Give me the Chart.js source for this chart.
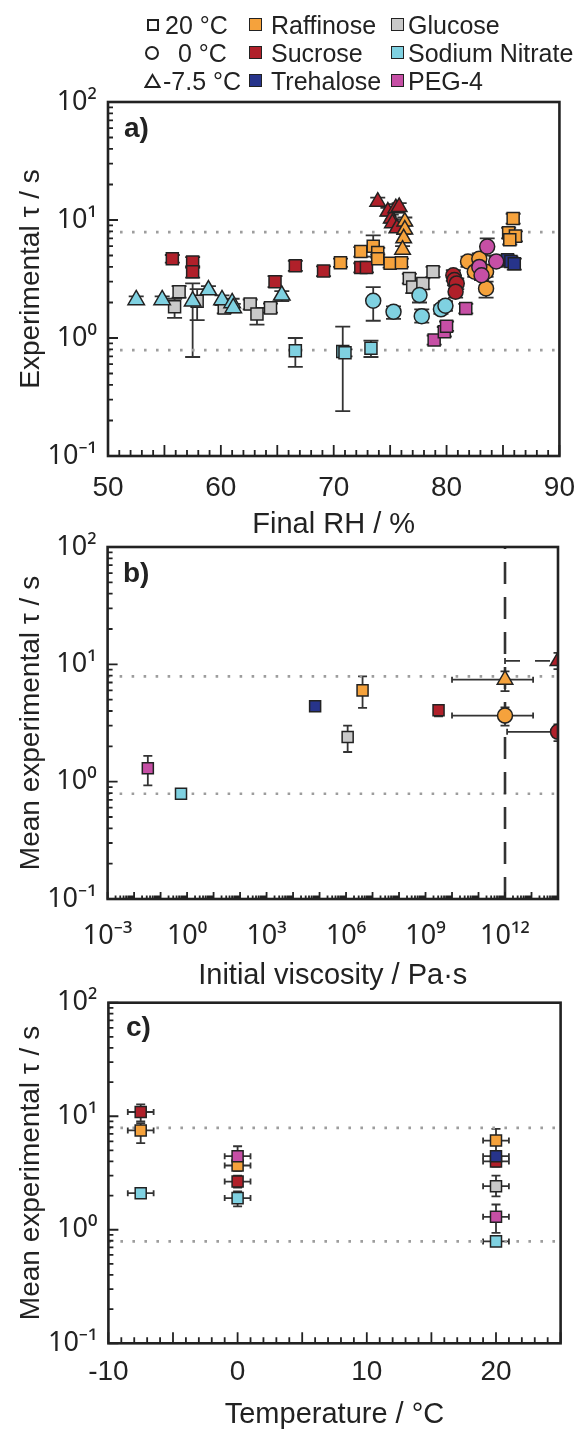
<!DOCTYPE html>
<html>
<head>
<meta charset="utf-8">
<script src="https://cdn.jsdelivr.net/npm/chart.js@4.4.0/dist/chart.umd.min.js"></script>
<style>
body { margin: 0; background: #fff; width: 582px; height: 1448px; position: relative; overflow: hidden;
       font-family: "Liberation Sans", Arial, sans-serif; color: #222; }
canvas { position: absolute; left: 0; }
.lg { position: absolute; font-size: 25px; line-height: 28px; white-space: nowrap; }
.mk { position: absolute; box-sizing: border-box; border: 1.6px solid #222; }
.pl { position: absolute; font-weight: bold; font-size: 28px; line-height: 32px; }
</style>
</head>
<body>
<canvas id="chartA" width="582" height="545" style="top:0"></canvas>
<canvas id="chartB" width="582" height="500" style="top:500px"></canvas>
<canvas id="chartC" width="582" height="493" style="top:955px"></canvas>

<!-- legend -->
<div class="mk" style="left:147px;top:19px;width:12px;height:12px;border-width:2px"></div>
<div class="lg" style="left:165px;top:11px">20 °C</div>
<div class="mk" style="left:145px;top:46px;width:14px;height:14px;border-width:2px;border-radius:50%"></div>
<div class="lg" style="left:178px;top:39px">0 °C</div>
<svg style="position:absolute;left:144px;top:73px" width="17" height="16"><polygon points="8.5,2 15.5,14 1.5,14" fill="none" stroke="#222" stroke-width="2"/></svg>
<div class="lg" style="left:163px;top:67px">-7.5 °C</div>

<div class="mk" style="left:249px;top:18px;width:13px;height:13px;background:#f5a23c"></div>
<div class="lg" style="left:271px;top:11px">Raffinose</div>
<div class="mk" style="left:249px;top:46px;width:13px;height:13px;background:#b0202a"></div>
<div class="lg" style="left:271px;top:39px">Sucrose</div>
<div class="mk" style="left:249px;top:74px;width:13px;height:13px;background:#27348b"></div>
<div class="lg" style="left:271px;top:67px">Trehalose</div>

<div class="mk" style="left:391px;top:18px;width:13px;height:13px;background:#c9c9c9"></div>
<div class="lg" style="left:408px;top:11px">Glucose</div>
<div class="mk" style="left:391px;top:46px;width:13px;height:13px;background:#7fd1e1"></div>
<div class="lg" style="left:408px;top:39px">Sodium Nitrate</div>
<div class="mk" style="left:391px;top:74px;width:13px;height:13px;background:#c64fa5"></div>
<div class="lg" style="left:408px;top:67px">PEG-4</div>

<div class="pl" style="left:124px;top:112px">a)</div>
<div class="pl" style="left:123px;top:557px">b)</div>
<div class="pl" style="left:126px;top:1011px">c)</div>

<script>
// panel a: [final RH %, tau s, tau low, tau high]
const sucrose20 = [[55.7, 4.7, 4.35, 5.05], [57.5, 4.4, 3.95, 4.85], [57.5, 3.65, 3.25, 4.05], [64.8, 3.0, 2.7, 3.35],
                   [66.6, 4.1, 3.7, 4.5], [69.1, 3.7, 3.35, 4.05], [72.4, 3.95, 3.6, 4.3], [72.9, 3.95, 3.6, 4.3]];
const raffinose20 = [[70.6, 4.35, 4.0, 4.7], [72.4, 5.4, 4.9, 5.9], [73.5, 6.0, 4.9, 7.4], [73.9, 5.3, 4.8, 5.8],
                     [73.9, 4.7, 4.3, 5.1], [75.0, 4.3, 3.95, 4.65], [76.0, 4.35, 4.0, 4.7], [85.9, 10.3, 9.3, 11.3],
                     [85.5, 7.8, 7.0, 8.6], [86.1, 7.3, 6.6, 8.0], [85.6, 6.8, 6.2, 7.4]];
const trehalose20 = [[85.4, 4.6, 4.2, 5.0], [85.7, 4.45, 4.0, 4.9], [86.0, 4.25, 3.8, 4.7]];
const glucose20 = [[55.9, 1.84, 1.48, 2.15], [56.3, 2.47, 2.2, 2.75], [57.9, 2.05, 1.42, 2.6], [60.3, 1.8, 1.62, 2.0],
                   [62.6, 1.94, 1.75, 2.12], [63.2, 1.6, 1.3, 1.8], [64.4, 1.8, 1.64, 1.96], [76.7, 3.2, 2.9, 3.5],
                   [77.0, 2.7, 2.4, 3.0], [77.9, 2.9, 2.6, 3.2], [78.8, 3.65, 3.3, 4.0]];
const nitrate20 = [[66.6, 0.78, 0.57, 1.0], [70.8, 0.77, 0.24, 1.25], [71.0, 0.75, 0.7, 0.8], [73.3, 0.82, 0.69, 0.95]];
const peg20 = [[78.9, 0.96, 0.88, 1.05], [79.8, 1.13, 1.03, 1.24], [80.0, 1.26, 1.15, 1.38], [81.7, 1.78, 1.62, 1.95]];
const nitrate0 = [[73.5, 2.07, 1.4, 2.7], [75.3, 1.67, 1.45, 1.85], [77.6, 2.31, 2.0, 2.6], [77.8, 1.53, 1.35, 1.75],
                  [79.5, 1.75, 1.6, 1.9], [79.9, 1.88, 1.7, 2.05]];
const sucrose0 = [[80.6, 3.4, 3.05, 3.75], [80.7, 3.1, 2.8, 3.4], [80.9, 2.9, 2.6, 3.2], [80.8, 2.47, 2.2, 2.75]];
const raffinose0 = [[81.9, 4.45, 4.0, 4.9], [82.5, 3.65, 3.3, 4.0], [82.9, 4.7, 4.2, 5.2], [83.5, 3.65, 3.3, 4.0],
                    [83.5, 2.63, 2.2, 3.0]];
const peg0 = [[83.6, 5.95, 5.0, 7.0], [82.9, 4.0, 3.6, 4.4], [83.1, 3.4, 3.1, 3.7], [84.4, 4.45, 4.0, 4.9]];
const nitrateM = [[52.5, 2.1, 1.95, 2.25], [54.8, 2.1, 1.95, 2.25], [57.5, 2.05, 0.69, 2.9], [58.9, 2.55, 2.35, 2.75],
                  [60.1, 2.1, 1.9, 2.3], [61.0, 1.98, 1.8, 2.15], [61.1, 1.8, 1.65, 1.95], [65.4, 2.3, 2.05, 2.5]];
const sucroseM = [[73.9, 14.3, 13.2, 15.5], [74.8, 11.8, 10.9, 12.7], [75.1, 10.3, 9.5, 11.1], [75.5, 12.6, 11.6, 13.6],
                  [75.8, 12.9, 11.9, 13.9], [75.2, 9.4, 8.7, 10.1], [75.6, 8.5, 7.9, 9.2]];
const raffinoseM = [[76.3, 9.7, 9.0, 10.5], [76.3, 8.3, 7.7, 9.0], [76.2, 7.0, 6.5, 7.6], [76.1, 5.6, 5.2, 6.0]];

// panel b: [initial viscosity Pa s, mean tau, low, high, visc low, visc high]
const viscPEG = [[0.033, 1.30, 0.93, 1.66]];
const viscNitrate = [[0.59, 0.79, 0.74, 0.84]];
const viscTrehalose = [[6.8e4, 4.39, 4.1, 4.7]];
const viscGlucose = [[1.15e6, 2.40, 1.79, 3.0]];
const viscRaffinose = [[4.2e6, 6.0, 4.25, 7.9]];
const viscSucrose = [[3.1e9, 4.07, 3.6, 4.5]];
const viscRaffinose0 = [[1e12, 3.66, 3.0, 4.3, 1e10, 1.15e13]];
const viscRaffinoseM = [[1e12, 7.4, 5.9, 8.7, 1e10, 1.15e13]];
const viscSucrose0 = [[1e14, 2.66, 2.22, 3.07, 1.2e12, 1e14]];
const viscSucroseM = [[1e14, 10.7, 9.1, 12.5, 1e12, 1e14]];
const glassViscosity = 1e12;

// panel c: [temperature C, mean tau, low, high]
const tempRaffinose = [[-7.5, 7.5, 5.8, 8.7], [0, 3.68, 3.3, 4.1], [20, 6.1, 4.75, 7.75]];
const tempSucrose = [[-7.5, 10.9, 9.0, 12.7], [0, 2.66, 2.35, 3.0], [20, 4.0, 3.6, 4.4]];
const tempNitrate = [[-7.5, 2.10, 2.0, 2.2], [0, 1.90, 1.61, 2.18], [20, 0.79, 0.74, 0.84]];
const tempPEG = [[0, 4.45, 3.9, 5.44], [20, 1.30, 0.94, 1.67]];
const tempTrehalose = [[20, 4.45, 4.1, 4.8]];
const tempGlucose = [[20, 2.42, 1.97, 3.0]];
const tempErrX = 1;

const dottedLevels = [7.9, 0.79];
const xTicksA = [50, 60, 70, 80, 90];
const xTicksB = [1e-3, 1, 1e3, 1e6, 1e9, 1e12];
const xTicksC = [-10, 0, 10, 20];
const yTicks = [0.1, 1, 10, 100];

const COL = { raf: '#f5a23c', suc: '#b0202a', tre: '#27348b', glu: '#c9c9c9', nit: '#7fd1e1', peg: '#c64fa5' };
Chart.defaults.font.family = '"Liberation Sans", Arial, sans-serif';
Chart.defaults.color = '#222';
// power-of-ten labels need every superscript glyph from one font
const powFont = { size: 27, family: '"Noto Sans", "Liberation Sans", sans-serif' };

const sup = n => String(n).split('').map(c => '⁻⁰¹²³⁴⁵⁶⁷⁸⁹'['-0123456789'.indexOf(c)]).join('');
const pow10Label = v => '10' + sup(Math.round(Math.log10(v)));

function pts(rows) {
  return rows.map(r => ({ x: r[0], y: r[1], lo: r[2], hi: r[3], xlo: r[4], xhi: r[5] }));
}
function series(rows, color, shape, radius, extra) {
  return Object.assign({
    type: 'scatter', data: pts(rows), backgroundColor: color, borderColor: '#222', borderWidth: 1.5,
    pointStyle: shape, pointRadius: radius, order: 1
  }, extra || {});
}
function hline(v, x0, x1) {
  return { type: 'line', data: [{ x: x0, y: v }, { x: x1, y: v }], borderColor: '#9d9d9d', borderWidth: 2.6,
           borderDash: [2.6, 9.4], pointRadius: 0, order: 10 };
}

// error bars, drawn behind the markers
const errorBars = {
  id: 'errorBars',
  beforeDatasetsDraw(chart, args, o) {
    const { ctx, chartArea: a, scales: { x, y } } = chart;
    ctx.save();
    ctx.beginPath(); ctx.rect(a.left, a.top, a.right - a.left, a.bottom - a.top); ctx.clip();
    ctx.strokeStyle = '#333'; ctx.lineWidth = 1.8;
    chart.data.datasets.forEach(ds => {
      ds.data.forEach(p => {
        if (p.lo === undefined) return;
        const px = x.getPixelForValue(p.x), py = y.getPixelForValue(p.y);
        const yl = y.getPixelForValue(p.lo), yh = y.getPixelForValue(p.hi);
        ctx.setLineDash([]);
        ctx.beginPath();
        ctx.moveTo(px, yl); ctx.lineTo(px, yh);
        ctx.moveTo(px - o.cap, yl); ctx.lineTo(px + o.cap, yl);
        ctx.moveTo(px - o.cap, yh); ctx.lineTo(px + o.cap, yh);
        ctx.stroke();
        let xlo = p.xlo, xhi = p.xhi;
        if (o.xerr !== undefined) { xlo = p.x - o.xerr; xhi = p.x + o.xerr; }
        if (xlo !== undefined) {
          const xl = x.getPixelForValue(xlo), xh = x.getPixelForValue(xhi);
          ctx.setLineDash(ds.dashedErr ? [15, 15] : []);
          ctx.beginPath(); ctx.moveTo(xl, py); ctx.lineTo(xh, py); ctx.stroke();
          ctx.setLineDash([]);
          ctx.beginPath();
          ctx.moveTo(xl, py - o.xcap); ctx.lineTo(xl, py + o.xcap);
          ctx.moveTo(xh, py - o.xcap); ctx.lineTo(xh, py + o.xcap);
          ctx.stroke();
        }
      });
    });
    ctx.restore();
  }
};

// box and inward tick marks
const frame = {
  id: 'frame',
  afterDatasetsDraw(chart, args, o) {
    const { ctx, chartArea: a, scales: { x, y } } = chart;
    ctx.save();
    ctx.strokeStyle = '#222';
    ctx.lineWidth = 1.8;
    ctx.beginPath();
    o.yMaj.forEach(v => { const p = y.getPixelForValue(v); ctx.moveTo(a.left, p); ctx.lineTo(a.left + o.yMajLen, p); });
    o.yMin.forEach(v => { const p = y.getPixelForValue(v); ctx.moveTo(a.left, p); ctx.lineTo(a.left + o.yMinLen, p); });
    o.xMaj.forEach(v => { const p = x.getPixelForValue(v); ctx.moveTo(p, a.bottom); ctx.lineTo(p, a.bottom - o.xMajLen); });
    o.xMin.forEach(v => { const p = x.getPixelForValue(v); ctx.moveTo(p, a.bottom); ctx.lineTo(p, a.bottom - o.xMinLen); });
    ctx.stroke();
    ctx.lineWidth = 2.6;
    ctx.strokeRect(a.left, a.top, a.right - a.left, a.bottom - a.top);
    ctx.restore();
  }
};

function logMarks(e0, e1) {
  const maj = [], min = [];
  for (let e = e0; e < e1; e++) {
    maj.push(Math.pow(10, e));
    for (let m = 2; m < 10; m++) min.push(m * Math.pow(10, e));
  }
  maj.push(Math.pow(10, e1));
  return { maj, min };
}
function linMarks(a, b, step, majStep) {
  const maj = [], min = [];
  for (let v = a; v <= b; v += step) ((v - a) % majStep === 0 ? maj : min).push(v);
  return { maj, min };
}

function makeChart(id, o) {
  const ym = logMarks(-1, 2);
  return new Chart(document.getElementById(id), {
    data: { datasets: o.datasets },
    plugins: [errorBars, frame],
    options: {
      responsive: false, animation: false, events: [],
      layout: { padding: { top: o.padTop, right: o.padRight, left: 0, bottom: 0 } },
      plugins: {
        legend: { display: false }, tooltip: { enabled: false },
        errorBars: o.err,
        frame: { yMaj: ym.maj, yMin: ym.min, yMajLen: 10, yMinLen: 5,
                 xMaj: o.xm.maj, xMin: o.xm.min, xMajLen: o.xMajLen, xMinLen: o.xMinLen }
      },
      scales: {
        x: {
          type: o.xType, min: o.xMin, max: o.xMax,
          grid: { display: false }, border: { display: false },
          afterBuildTicks: s => { s.ticks = o.xTicks.map(v => ({ value: v })); },
          ticks: { font: o.xFont || { size: 28 }, color: '#222', padding: o.xTickPad, maxRotation: 0, autoSkip: false,
                   callback: o.xLabel },
          title: { display: true, text: o.xTitle, font: { size: 29 }, color: '#222', padding: { top: 0, bottom: o.xTitlePad } },
          afterFit: s => { s.height = o.xHeight; }
        },
        y: {
          type: 'logarithmic', min: 0.1, max: 100,
          grid: { display: false }, border: { display: false },
          afterBuildTicks: s => { s.ticks = yTicks.map(v => ({ value: v })); },
          ticks: { font: powFont, color: '#222', padding: 3, callback: pow10Label },
          title: { display: true, text: o.yTitle, font: { size: 28 }, color: '#222', padding: { top: 14, bottom: 0 } },
          afterFit: s => { s.width = o.yWidth; }
        }
      }
    }
  });
}

// panel a
makeChart('chartA', {
  padTop: 102, padRight: 22, yWidth: 108, xHeight: 89, xTickPad: 7, xTitlePad: 3,
  xType: 'linear', xMin: 50, xMax: 90, xTicks: xTicksA, xLabel: v => String(v),
  xm: linMarks(50, 90, 1, 5), xMajLen: 11, xMinLen: 6,
  xTitle: 'Final RH / %', yTitle: 'Experimental τ / s',
  err: { cap: 7.5 },
  datasets: [
    series(peg0, COL.peg, 'circle', 7.5),
    series(raffinose0, COL.raf, 'circle', 7.5),
    series(sucrose0, COL.suc, 'circle', 7.5),
    series(nitrate0, COL.nit, 'circle', 7.5),
    series(raffinoseM, COL.raf, 'triangle', 9),
    series(sucroseM, COL.suc, 'triangle', 9),
    series(nitrateM, COL.nit, 'triangle', 9.5),
    series(trehalose20, COL.tre, 'rect', 8.5),
    series(raffinose20, COL.raf, 'rect', 8.5),
    series(sucrose20, COL.suc, 'rect', 8.5),
    series(glucose20, COL.glu, 'rect', 8.5),
    series(nitrate20, COL.nit, 'rect', 8.5),
    series(peg20, COL.peg, 'rect', 8.5),
    hline(dottedLevels[0], 50, 90), hline(dottedLevels[1], 50, 90)
  ]
});

// panel b
const bm = logMarks(-3, 14);
makeChart('chartB', {
  padTop: 47, padRight: 24, yWidth: 107.6, xHeight: 101, xTickPad: 13, xTitlePad: 7,
  xType: 'logarithmic', xMin: 1e-3, xMax: 1e14, xTicks: xTicksB, xLabel: pow10Label, xFont: powFont,
  xm: bm, xMajLen: 7, xMinLen: 3.5,
  xTitle: 'Initial viscosity / Pa·s', yTitle: 'Mean experimental τ / s',
  err: { cap: 4.5, xcap: 3 },
  datasets: [
    series(viscRaffinoseM, COL.raf, 'triangle', 9),
    series(viscRaffinose0, COL.raf, 'circle', 7.5),
    series(viscSucroseM, COL.suc, 'triangle', 9, { dashedErr: true }),
    series(viscSucrose0, COL.suc, 'circle', 7.5),
    series(viscPEG, COL.peg, 'rect', 7.8),
    series(viscNitrate, COL.nit, 'rect', 7.8),
    series(viscTrehalose, COL.tre, 'rect', 7.8),
    series(viscGlucose, COL.glu, 'rect', 7.8),
    series(viscRaffinose, COL.raf, 'rect', 7.8),
    series(viscSucrose, COL.suc, 'rect', 7.8),
    { type: 'line', data: [{ x: glassViscosity, y: 0.1 }, { x: glassViscosity, y: 100 }], borderColor: '#333',
      borderWidth: 2.6, borderDash: [22, 13], pointRadius: 0, order: 9 },
    hline(dottedLevels[0], 1e-3, 1e14), hline(dottedLevels[1], 1e-3, 1e14)
  ]
});

// panel c
makeChart('chartC', {
  padTop: 47.7, padRight: 21.4, yWidth: 108.4, xHeight: 104.7, xTickPad: 4, xTitlePad: 16,
  xType: 'linear', xMin: -10, xMax: 25, xTicks: xTicksC, xLabel: v => String(v),
  xm: linMarks(-10, 25, 1, 5), xMajLen: 11, xMinLen: 6,
  xTitle: 'Temperature / °C', yTitle: 'Mean experimental τ / s',
  err: { cap: 4.5, xcap: 3, xerr: tempErrX },
  datasets: [
    series(tempTrehalose, COL.tre, 'rect', 7.8),
    series(tempPEG, COL.peg, 'rect', 7.8),
    series(tempRaffinose, COL.raf, 'rect', 7.8),
    series(tempGlucose, COL.glu, 'rect', 7.8),
    series(tempSucrose, COL.suc, 'rect', 7.8),
    series(tempNitrate, COL.nit, 'rect', 7.8),
    hline(dottedLevels[0], -10, 25), hline(dottedLevels[1], -10, 25)
  ]
});
</script>
</body>
</html>
